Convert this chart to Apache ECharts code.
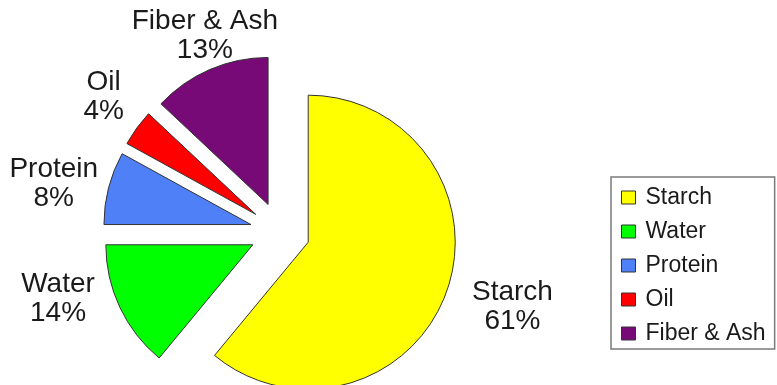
<!DOCTYPE html>
<html>
<head>
<meta charset="utf-8">
<script src="https://cdn.jsdelivr.net/npm/echarts@6/dist/echarts.min.js"></script>
<style>
html,body{margin:0;padding:0;background:#fff;}
#chart{width:777px;height:385px;}
</style>
</head>
<body>
<div id="chart"></div>
<script>
// ---- data ----
const categories = ['Starch', 'Water', 'Protein', 'Oil', 'Fiber & Ash'];
const values = [61, 14, 8, 4, 13];

// ---- styles ----
const colors = ['#FFFF00', '#00FF00', '#4F80F7', '#FF0000', '#780A78'];
// label leader geometry (line hidden) used only to place the outside labels
const labelLineLength = [43, -21, 18, 53, 37];
const labelLineLength2 = [-20, 39, -12, -35, -88];

const chart = echarts.init(document.getElementById('chart'));
const data = categories.map((name, i) => ({
  name: name,
  value: values[i],
  selected: true,
  itemStyle: { color: colors[i] },
  labelLine: { show: false, length: labelLineLength[i], length2: labelLineLength2[i] }
}));

const font = 'Liberation Sans';

chart.setOption({
  animation: false,
  backgroundColor: '#ffffff',
  legend: {
    orient: 'vertical',
    left: 611,
    top: 177,
    padding: [9, 9, 4, 10],
    borderColor: '#7a7a7a',
    borderWidth: 1.5,
    icon: 'rect',
    itemWidth: 14,
    itemHeight: 13,
    itemGap: 11,
    selectedMode: false,
    textStyle: { fontFamily: font, fontSize: 23, lineHeight: 23, color: '#1a1a1a', padding: [0, 0, 0, 5] },
    itemStyle: { borderColor: '#333', borderWidth: 1 },
    data: categories
  },
  series: [{
    type: 'pie',
    center: [280, 232],
    radius: 147,
    startAngle: 90,
    clockwise: true,
    avoidLabelOverlap: false,
    selectedMode: 'multiple',
    selectedOffset: 30,
    data: data,
    itemStyle: { borderColor: '#333', borderWidth: 1 },
    emphasis: { disabled: true },
    labelLayout: { hideOverlap: false },
    label: {
      show: true,
      position: 'outside',
      formatter: '{t|{b}}\n{t|{c}%}',
      rich: {
        t: { fontFamily: font, fontSize: 28, lineHeight: 29, color: '#1a1a1a', align: 'center' }
      }
    },
    labelLine: { show: false }
  }]
});
</script>
</body>
</html>
